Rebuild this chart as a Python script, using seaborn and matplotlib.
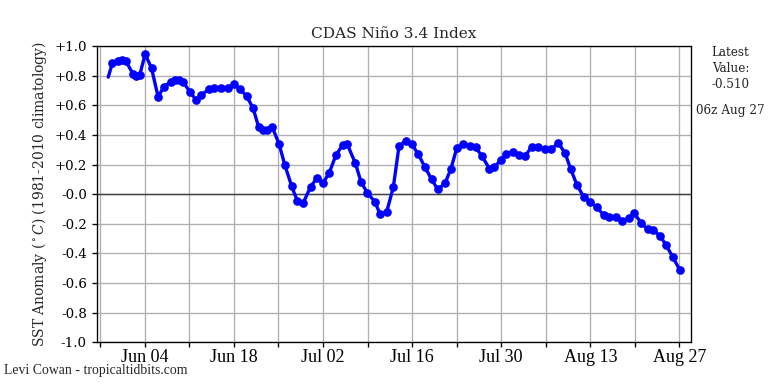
import pandas as pd
import numpy as np
import matplotlib
matplotlib.use("Agg")
import matplotlib.pyplot as plt
import matplotlib.dates as mdates
from matplotlib.ticker import FuncFormatter, MultipleLocator
import seaborn as sns

sns.set_style("ticks")
plt.rcParams['font.family'] = ['DejaVu Serif']
plt.rcParams['mathtext.fontset'] = 'dejavuserif'

# days after 2024-06-04 00z, and Nino 3.4 anomaly (deg C)
base_date = pd.Timestamp("2024-06-04")
day_offset = [
    -5.75, -5.08, -4.2, -3.66, -2.99, -1.84, -1.42, -0.79, 0.05, 1.05,
    2.09, 2.99, 4.04, 4.72, 5.35, 6.02, 7.08, 8.1, 8.9, 10.06,
    10.9, 11.95, 13.0, 14.04, 14.94, 16.0, 17.03, 17.9, 18.6, 19.25,
    20.0, 21.1, 22.0, 23.07, 23.95, 24.9, 26.05, 27.0, 28.03, 28.98,
    30.03, 31.08, 31.8, 33.1, 33.96, 34.95, 36.16, 36.95, 38.0, 39.04,
    39.94, 40.99, 41.93, 42.97, 44.03, 45.08, 46.02, 47.17, 48.11, 49.0,
    50.05, 51.1, 52.0, 52.99, 54.14, 54.87, 55.93, 56.76, 57.8, 58.85,
    59.75, 60.8, 61.84, 62.9, 63.84, 64.98, 66.04, 66.94, 67.9, 68.96,
    70.0, 71.06, 72.1, 73.0, 74.0, 74.95, 76.0, 76.9, 77.99, 79.0,
    79.9, 80.97, 81.92, 82.92, 84.03,
]
anomaly = [
    0.79, 0.887, 0.90, 0.905, 0.90, 0.81, 0.80, 0.806, 0.946, 0.851,
    0.657, 0.725, 0.757, 0.77, 0.77, 0.759, 0.69, 0.635, 0.669, 0.709,
    0.716, 0.716, 0.72, 0.743, 0.709, 0.662, 0.579, 0.45, 0.433, 0.435,
    0.455, 0.338, 0.196, 0.054, -0.045, -0.059, 0.05, 0.106, 0.077, 0.144,
    0.264, 0.331, 0.338, 0.207, 0.083, 0.009, -0.052, -0.135, -0.12, 0.045,
    0.324, 0.36, 0.338, 0.27, 0.18, 0.099, 0.032, 0.072, 0.173, 0.309,
    0.338, 0.324, 0.315, 0.255, 0.173, 0.18, 0.23, 0.27, 0.286, 0.264,
    0.257, 0.32, 0.315, 0.302, 0.302, 0.347, 0.275, 0.167, 0.061, -0.018,
    -0.052, -0.09, -0.142, -0.157, -0.157, -0.18, -0.164, -0.13, -0.194, -0.239,
    -0.243, -0.284, -0.345, -0.423, -0.51,
]
latest_label = "06z Aug 27"
x_limits = [-7.55, 85.85]

df = pd.DataFrame({
    "time": base_date + pd.to_timedelta(day_offset, unit="D"),
    "anom": anomaly,
})

fig = plt.figure(figsize=(8, 4), dpi=96)
ax = fig.add_axes([0.126, 0.109, 0.774, 0.771])

sns.lineplot(data=df, x="time", y="anom", ax=ax, color="blue", linewidth=2.5,
             marker="o", markersize=6.5, markeredgewidth=0, estimator=None,
             sort=False, markevery=slice(1, None), zorder=3)

ax.axhline(0, color="#444444", linewidth=1.1, zorder=2)

ax.set_ylim(-1.0, 1.0)
ax.yaxis.set_major_locator(MultipleLocator(0.2))
ax.yaxis.set_major_formatter(FuncFormatter(
    lambda v, p: "+%.1f" % v if v > 1e-9 else "-%.1f" % abs(v)))
ax.set_xlim(base_date + pd.Timedelta(days=x_limits[0]),
            base_date + pd.Timedelta(days=x_limits[1]))
major_days = pd.date_range("2024-06-04", "2024-08-27", freq="14D")
minor_days = pd.date_range("2024-05-28", "2024-08-27", freq="14D")
ax.set_xticks(mdates.date2num(major_days))
ax.set_xticks(mdates.date2num(minor_days), minor=True)
ax.xaxis.set_major_formatter(mdates.DateFormatter("%b %d"))

ax.grid(True, which="both", color="#b0b0b0", linewidth=1.0, zorder=0)
ax.tick_params(axis="both", which="both", direction="out", length=4, width=1,
               colors="black")
ax.tick_params(axis="y", labelsize=10)
ax.tick_params(axis="x", pad=1.5)
for lab in ax.get_xticklabels():
    lab.set_fontsize(13.5)
    lab.set_family(["Liberation Serif"])
for sp in ax.spines.values():
    sp.set_visible(True)
    sp.set_color("black")
    sp.set_linewidth(1.0)

ax.set_xlabel("")
ax.set_ylabel(r"SST Anomaly ($^\circ C$) (1981-2010 climatology)", fontsize=10.4)
ax.set_title("CDAS Niño 3.4 Index", fontsize=11.5)

fig.text(0.951, 0.88, "Latest\nValue:\n%.3f" % anomaly[-1], ha="center",
         va="top", fontsize=9, linespacing=1.3)
fig.text(0.951, 0.712, latest_label, ha="center", va="center", fontsize=9)
fig.text(0.005, 0.035, "Levi Cowan - tropicaltidbits.com", ha="left",
         va="center", fontsize=10.3, family=["Liberation Serif"])

fig.savefig("out.png", dpi=96)
